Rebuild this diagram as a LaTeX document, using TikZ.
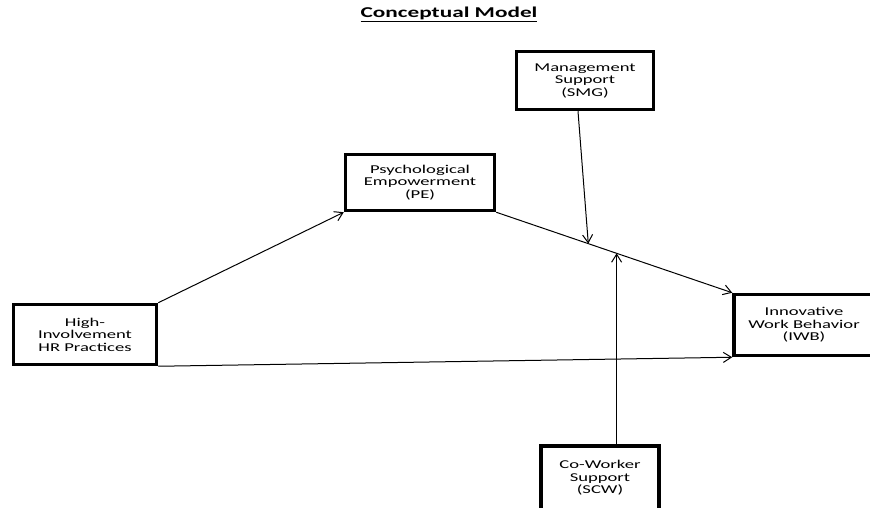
\documentclass[tikz,border=0pt]{standalone}
\usepackage{fontspec}
\setmainfont{Carlito}
\newfontfamily\stretchfont[FakeStretch=1.55]{Carlito}
\usetikzlibrary{positioning,calc,arrows.meta}

\begin{document}
\begin{tikzpicture}[
    x=1pt, y=-1pt,
    every node/.style={font=\stretchfont\fontsize{12}{12.5}\selectfont},
    box/.style={draw, line width=3.5pt, align=center, inner sep=0pt},
    path/.style={-{Straight Barb[length=8pt,width=10pt]}, line width=1pt}
]
\useasboundingbox (0,0) rectangle (870,508);
\clip (0,0) rectangle (870,508);

% Title
\node (title) at (449,14) {\fontsize{15}{18}\selectfont\bfseries\underline{Conceptual Model}};

% Constructs
\node[box, minimum width=143pt, minimum height=60pt] (hr) at (85,334.5) {High-\\Involvement\\HR Practices};
\node[box, minimum width=149pt, minimum height=56pt] (pe) at (420,182.5) {Psychological\\Empowerment\\(PE)};
\node[box, minimum width=137pt, minimum height=58pt] (smg) at (585,80.5) {Management\\Support\\(SMG)};
\node[box, minimum width=140pt, minimum height=61pt] (iwb) at (804,325) {Innovative\\Work Behavior\\(IWB)};
\node[box, minimum width=118pt, minimum height=64pt] (scw) at (600,478) {Co-Worker\\Support\\(SCW)};

% Direct paths
\draw[path] (hr.north east) -- (pe.south west);
\draw[path] (pe.south east) -- (iwb.north west);
\draw[path] (hr.south east) -- (iwb.south west);

% Moderators
\coordinate (m1) at ($(pe.south east)!0.39!(iwb.north west)$);
\coordinate (m2) at ($(pe.south east)!0.51!(iwb.north west)$);
\draw[path] ([xshift=-7pt]smg.south) -- (m1);
\draw[path] (m2 |- scw.north) -- (m2);

\end{tikzpicture}
\end{document}
